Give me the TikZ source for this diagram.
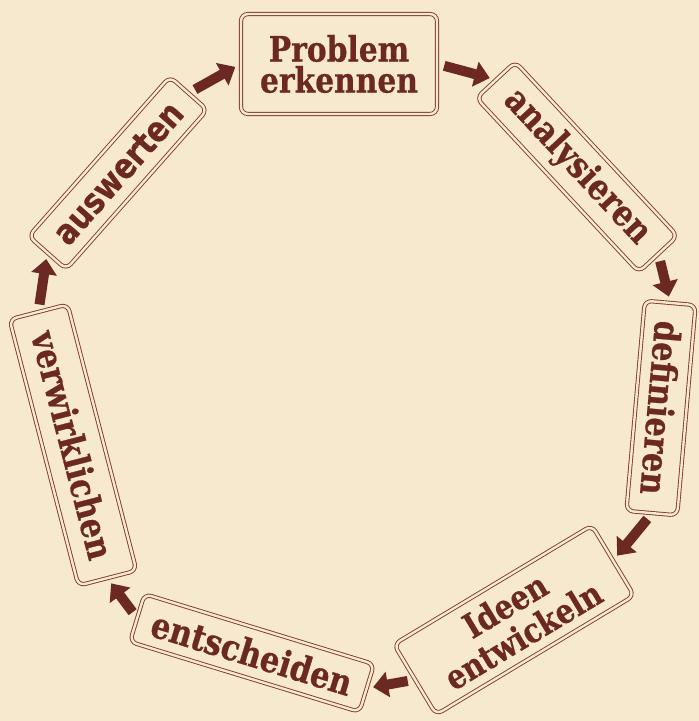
\documentclass[tikz,border=0pt]{standalone}
\usepackage{fontspec}
\usetikzlibrary{arrows.meta}
\newfontfamily\labfont[FakeStretch=0.85,BoldFeatures={FakeBold=0.6}]{DejaVu Serif}
\newfontfamily\labsans[FakeStretch=0.85,BoldFeatures={FakeBold=0.6}]{DejaVu Sans}
\definecolor{bg}{RGB}{247,233,206}
\definecolor{ink}{RGB}{108,40,34}
\definecolor{boxline}{RGB}{128,58,48}
\tikzset{
  box/.style={draw=boxline, line width=0.9pt, double=bg, double distance=2.4pt,
    rounded corners=7pt, inner sep=2pt, text=ink, align=center,
    font=\labfont\bfseries\fontsize{36}{31}\selectfont},
  arr/.style={draw=ink, line width=10pt, -{Triangle[width=25pt,length=15pt]},
    shorten <=7pt, shorten >=6pt}
}
\begin{document}
\begin{tikzpicture}[x=1pt,y=-1pt]
\fill[bg] (0,0) rectangle (699,721);
\useasboundingbox (0,0) rectangle (699,721);
\node[box, minimum width=196pt, minimum height=100pt, font=\labfont\bfseries\fontsize{35}{31}\selectfont] (P) at (339,64) {Problem\\erkennen};
\node[box, rotate=-47, minimum width=238pt, minimum height=53pt] (A) at (577,167) {analysieren};
\node[box, rotate=-95, minimum width=211pt, minimum height=51pt] (D) at (661,408) {definieren};
\node[box, rotate=31, minimum width=231pt, minimum height=82pt, font=\labfont\bfseries\fontsize{34}{35}\selectfont] (I) at (514,620) {Ideen\\entwickeln};
\node[box, rotate=-17, minimum width=240pt, minimum height=50pt] (E) at (252,653) {entscheiden};
\node[box, rotate=-75.5, minimum width=275pt, minimum height=60pt] (V) at (73,445) {verwirklichen};
\node[box, rotate=48.5, minimum width=213pt, minimum height=50pt, font=\labsans\bfseries\fontsize{35}{31}\selectfont] (W) at (118,173) {auswerten};
\draw[arr] (W.east) -- (P.west);
\draw[arr] (P.east) -- (A.west);
\draw[arr] (A.east) -- (D.west);
\draw[arr] (D.east) -- (I.east);
\draw[arr] (I.west) -- (E.east);
\draw[arr] (E.west) -- (V.east);
\draw[arr] (V.west) -- (W.west);
\end{tikzpicture}
\end{document}
